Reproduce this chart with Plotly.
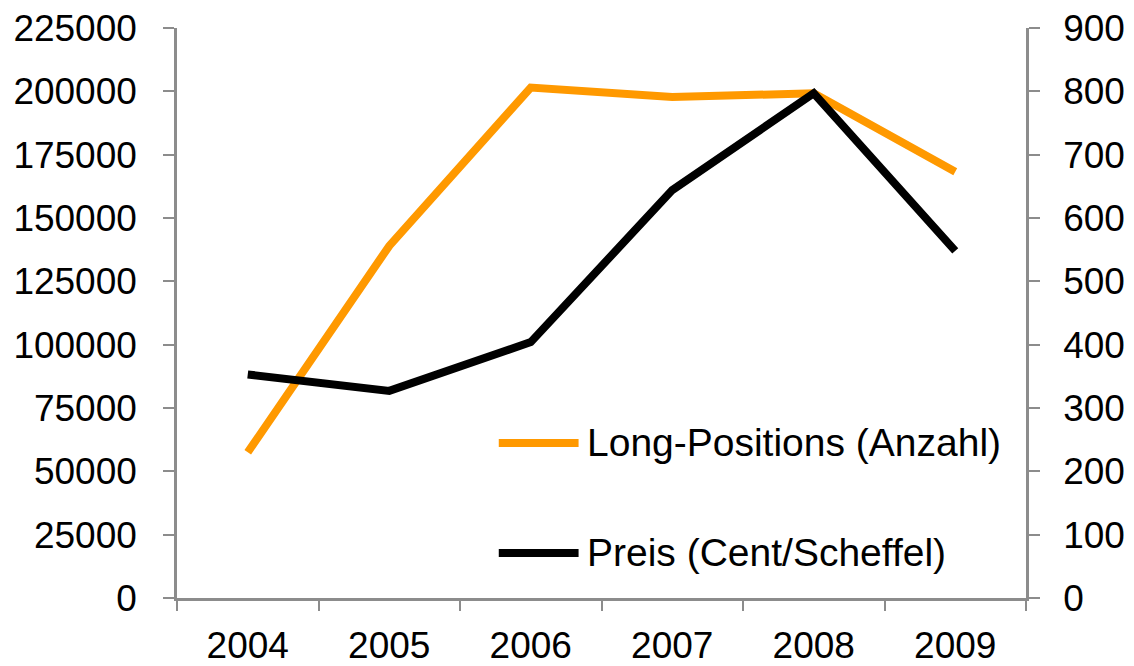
import plotly.graph_objects as go

years = ["2004", "2005", "2006", "2007", "2008", "2009"]
long_positions = [57500, 139000, 201500, 197800, 199200, 168300]
price = [353, 327, 404, 644, 797, 548]
left_ticks = [0, 25000, 50000, 75000, 100000, 125000, 150000, 175000, 200000, 225000]
right_ticks = [0, 100, 200, 300, 400, 500, 600, 700, 800, 900]
name_long = "Long-Positions (Anzahl)"
name_price = "Preis (Cent/Scheffel)"

ORANGE = "#FF9900"
GRAY = "#8C8C8C"
FONT = "Liberation Sans, Arial, sans-serif"
FS = 37
FS_LEG = 39

fig = go.Figure()
fig.add_trace(go.Scatter(x=years, y=long_positions, mode="lines", name=name_long,
                         line=dict(color=ORANGE, width=8), yaxis="y", showlegend=False))
fig.add_trace(go.Scatter(x=years, y=price, mode="lines", name=name_price,
                         line=dict(color="black", width=8), yaxis="y2", showlegend=False))

# manual legend (layout decoration)
for yy, col, txt in [(0.272, ORANGE, name_long), (0.079, "black", name_price)]:
    fig.add_shape(type="line", xref="paper", yref="paper", x0=0.379, x1=0.473, y0=yy, y1=yy,
                  line=dict(color=col, width=8), layer="above")
    fig.add_annotation(xref="paper", yref="paper", x=0.481, y=yy, text=txt, showarrow=False,
                       xanchor="left", yanchor="middle",
                       font=dict(size=FS_LEG, color="black", family=FONT))

fig.update_layout(
    width=1134, height=666,
    margin=dict(l=177, r=108, t=28, b=68),
    plot_bgcolor="white", paper_bgcolor="white",
    font=dict(family=FONT, size=FS, color="black"),
    xaxis=dict(type="category", range=[-0.5, 5.5], showgrid=False, zeroline=False, automargin=False,
               showline=True, linecolor=GRAY, linewidth=2.5, ticks="outside", tickson="boundaries",
               ticklen=10, tickwidth=2, tickcolor=GRAY, ticklabelstandoff=13,
               ticklabeloverflow="allow", tickfont=dict(size=FS, family=FONT)),
    yaxis=dict(range=[0, 225000], tickvals=left_ticks, ticktext=[str(v) for v in left_ticks],
               showgrid=False, zeroline=False, showline=True, linecolor=GRAY, linewidth=2.5,
               automargin=False, ticklabeloverflow="allow",
               ticks="outside", ticklen=11, tickwidth=2, tickcolor=GRAY, ticklabelstandoff=19,
               tickfont=dict(size=FS, family=FONT)),
    yaxis2=dict(range=[0, 900], tickvals=right_ticks, ticktext=[str(v) for v in right_ticks],
                overlaying="y", side="right", showgrid=False, zeroline=False, showline=True,
                automargin=False, ticklabeloverflow="allow",
                linecolor=GRAY, linewidth=2.5, ticks="outside", ticklen=11, tickwidth=2,
                tickcolor=GRAY, ticklabelstandoff=16, tickfont=dict(size=FS, family=FONT)),
)

fig.write_html("out.html", config={"displayModeBar": False},
               post_script="document.body.style.margin='0';document.body.style.overflow='hidden';")
